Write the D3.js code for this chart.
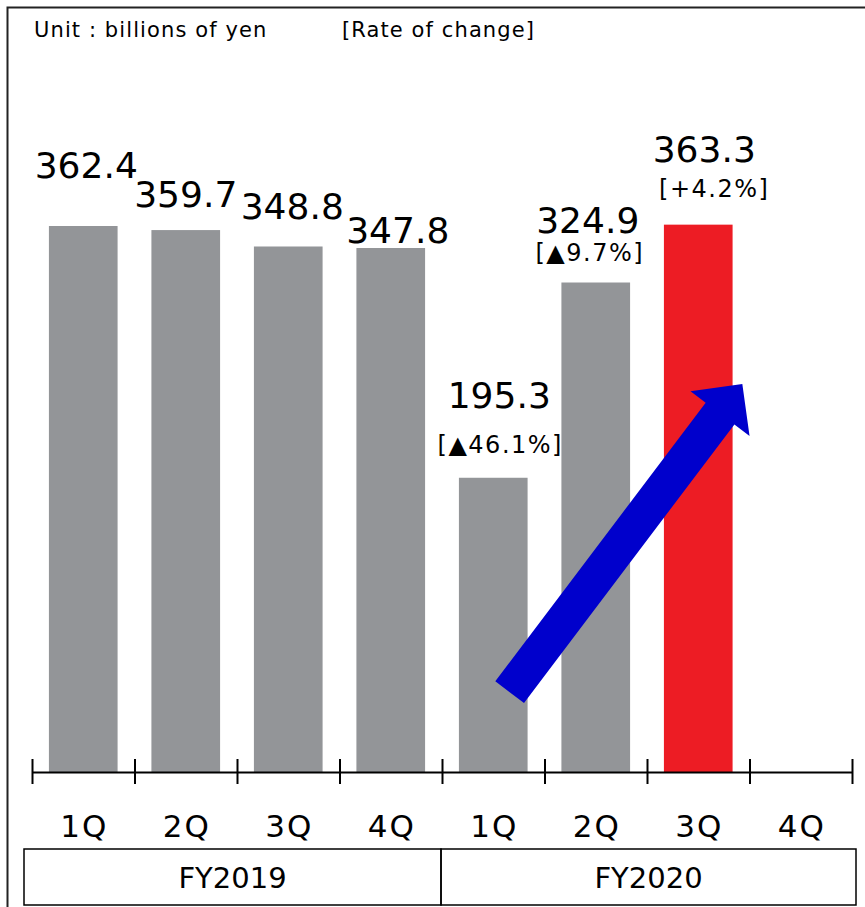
<!DOCTYPE html>
<html>
<head>
<meta charset="utf-8">
<script src="https://cdn.jsdelivr.net/npm/d3@7"></script>
<style>
  body { margin: 0; background: #fff; }
  svg { display: block; font-family: "DejaVu Sans", Verdana, sans-serif; }
</style>
</head>
<body>
<svg id="chart" width="865" height="907"></svg>
<script>
// chart data
const quarters = ["1Q", "2Q", "3Q", "4Q", "1Q", "2Q", "3Q", "4Q"];
const fiscalYears = ["FY2019", "FY2020"];
const sales = [362.4, 359.7, 348.8, 347.8, 195.3, 324.9, 363.3, null];
const rateLabels = [null, null, null, null, "[▲46.1%]", "[▲9.7%]", "[+4.2%]", null];
const highlightIndex = 6;
// arrow goes from (quarter index + fraction, value) to (quarter index + fraction, value)
const arrowFrom = [4.66, 53];
const arrowTo = [6.93, 257.5];

// layout tweaks for the labels (pixels), one per bar
const valueDy = [-48, -23, -27, -5, -70, -50, -63];
const valueDx = [3, 0, 4, 7, 6, -8, 6];
const rateDy = [0, 0, 0, 0, 45, 28, 35];
const rateDx = [0, 0, 0, 0, 7, -6, 16];

var svg = d3.select("#chart");

// frame (left + top edges only)
svg.append("path")
    .attr("d", "M7.5,907 V7.5 H865")
    .attr("fill", "none")
    .attr("stroke", "#222")
    .attr("stroke-width", 2);

svg.append("text")
    .attr("x", 34).attr("y", 37)
    .style("font-size", "21px")
    .style("letter-spacing", "1.1px")
    .text("Unit : billions of yen");
svg.append("text")
    .attr("x", 342).attr("y", 37)
    .style("font-size", "21px")
    .style("letter-spacing", "1.1px")
    .text("[Rate of change]");

var axisY = 772;
var x = d3.scaleBand()
    .domain(d3.range(quarters.length))
    .range([32, 852])
    .paddingInner(0.33)
    .paddingOuter(0.165);

var y = d3.scaleLinear()
    .domain([0, 450])
    .range([axisY, axisY - 450 * 1.5066]);

// bars
var barData = sales.map((v, i) => ({v: v, i: i})).filter(d => d.v != null);
svg.selectAll("rect.bar")
    .data(barData)
    .enter()
    .append("rect")
    .attr("class", "bar")
    .attr("x", d => x(d.i))
    .attr("y", d => y(d.v))
    .attr("width", x.bandwidth())
    .attr("height", d => y(0) - y(d.v))
    .attr("fill", d => d.i === highlightIndex ? "#ED1C24" : "#939598");

// axis with ticks at the band boundaries
var edges = d3.scaleLinear().domain([0, quarters.length]).range([32, 852]);
var axisG = svg.append("g")
    .attr("transform", "translate(0," + axisY + ")")
    .call(d3.axisBottom(edges).tickValues(d3.range(quarters.length + 1)).tickFormat("").tickSizeOuter(0));
axisG.select(".domain").attr("stroke", "#000").attr("stroke-width", 2);
axisG.selectAll(".tick line")
    .attr("y1", -13).attr("y2", 12)
    .attr("stroke", "#000").attr("stroke-width", 2);

// quarter labels
svg.selectAll("text.q")
    .data(quarters)
    .enter()
    .append("text")
    .attr("class", "q")
    .attr("x", (d, i) => x(i) + x.bandwidth() / 2 + 1)
    .attr("y", 837)
    .attr("text-anchor", "middle")
    .style("font-size", "31px")
    .style("letter-spacing", "2px")
    .text(d => d);

// fiscal year boxes
var yearEdges = [24, 441, 856];
fiscalYears.forEach(function(fy, k) {
    svg.append("rect")
        .attr("x", yearEdges[k]).attr("y", 849)
        .attr("width", yearEdges[k + 1] - yearEdges[k])
        .attr("height", 56)
        .attr("fill", "none")
        .attr("stroke", "#000")
        .attr("stroke-width", 1.5);
    svg.append("text")
        .attr("x", (yearEdges[k] + yearEdges[k + 1]) / 2)
        .attr("y", 888)
        .attr("text-anchor", "middle")
        .style("font-size", "29px")
        .text(fy);
});

// value labels
svg.selectAll("text.val")
    .data(barData)
    .enter()
    .append("text")
    .attr("class", "val")
    .attr("x", d => x(d.i) + x.bandwidth() / 2 + valueDx[d.i])
    .attr("y", d => y(d.v) + valueDy[d.i])
    .attr("text-anchor", "middle")
    .style("font-size", "36px")
    .text(d => d.v.toFixed(1));

// rate of change labels
svg.selectAll("text.rate")
    .data(barData.filter(d => rateLabels[d.i]))
    .enter()
    .append("text")
    .attr("class", "rate")
    .attr("x", d => x(d.i) + x.bandwidth() / 2 + rateDx[d.i])
    .attr("y", d => y(d.v) + valueDy[d.i] + rateDy[d.i])
    .attr("text-anchor", "middle")
    .style("font-size", "24px")
    .style("letter-spacing", "1.5px")
    .text(d => rateLabels[d.i]);

// blue arrow
function posX(t) { return 32 + t * x.step(); }
var x0 = posX(arrowFrom[0]), y0 = y(arrowFrom[1]);
var x1 = posX(arrowTo[0]), y1 = y(arrowTo[1]);
var len = Math.hypot(x1 - x0, y1 - y0);
var ux = (x1 - x0) / len, uy = (y1 - y0) / len;
var px = -uy, py = ux;
var shaftW = 18, headW = 37, headL = 37;
var bx = x1 - ux * headL, by = y1 - uy * headL;
var pts = [
    [x0 + px * shaftW, y0 + py * shaftW],
    [bx + px * shaftW, by + py * shaftW],
    [bx + px * headW, by + py * headW],
    [x1, y1],
    [bx - px * headW, by - py * headW],
    [bx - px * shaftW, by - py * shaftW],
    [x0 - px * shaftW, y0 - py * shaftW]
];
svg.append("path")
    .attr("d", d3.line()(pts) + "Z")
    .attr("fill", "#0000CC");
</script>
</body>
</html>
